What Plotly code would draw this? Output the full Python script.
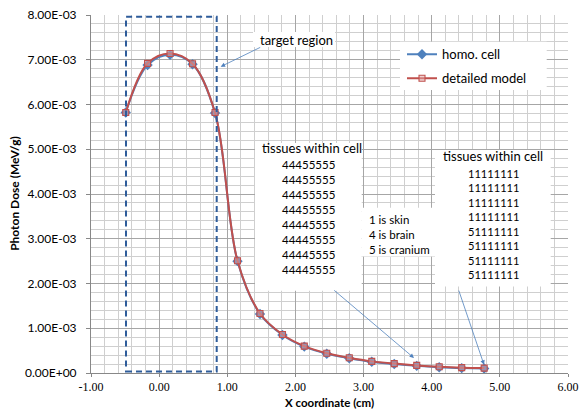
import plotly.graph_objects as go

# ---- data ----
x_cm = [-0.49, -0.17, 0.16, 0.49, 0.82, 1.15, 1.48, 1.81, 2.13, 2.46, 2.79, 3.12,
        3.45, 3.78, 4.11, 4.44, 4.77]
homo_cell = [5.82e-3, 6.88e-3, 7.11e-3, 6.90e-3, 5.81e-3, 2.50e-3, 1.32e-3, 0.85e-3,
             0.59e-3, 0.43e-3, 0.33e-3, 0.25e-3, 0.20e-3, 0.16e-3, 0.13e-3, 0.11e-3, 0.10e-3]
detailed_model = [5.82e-3, 6.92e-3, 7.14e-3, 6.91e-3, 5.82e-3, 2.51e-3, 1.33e-3, 0.86e-3,
                  0.60e-3, 0.44e-3, 0.34e-3, 0.26e-3, 0.21e-3, 0.17e-3, 0.14e-3, 0.12e-3, 0.11e-3]

x_tickvals = [-1, 0, 1, 2, 3, 4, 5, 6]
x_ticktext = ["-1.00", "0.00", "1.00", "2.00", "3.00", "4.00", "5.00", "6.00"]
y_tickvals = [0, 1e-3, 2e-3, 3e-3, 4e-3, 5e-3, 6e-3, 7e-3, 8e-3]
y_ticktext = ["0.00E+00", "1.00E-03", "2.00E-03", "3.00E-03", "4.00E-03",
              "5.00E-03", "6.00E-03", "7.00E-03", "8.00E-03"]

left_cells = ["44455555"] * 4 + ["44445555"] * 4
right_cells = ["11111111"] * 4 + ["51111111"] * 4
key_lines = ["1 is skin", "4 is brain", "5 is cranium"]

# ---- layout geometry (pixels of the 579x419 figure) ----
W, H = 579, 419
L, R, T, B = 91, 568, 15, 373.3
XMIN, XMAX, YMIN, YMAX = -1.0, 6.0, 0.0, 8e-3


def px2x(px):
    return XMIN + (px - L) / (R - L) * (XMAX - XMIN)


def py2y(py):
    return YMIN + (B - py) / (B - T) * (YMAX - YMIN)


def pfx(px):
    return (px - L) / (R - L)


def pfy(py):
    return (B - py) / (B - T)


SANS = "Lato"
SERIF = "Liberation Serif"
BLUE = "#4F81BD"
RED = "#C0504D"

fig = go.Figure()
fig.add_trace(go.Scatter(
    x=x_cm, y=homo_cell, name="homo. cell", mode="lines+markers",
    line=dict(color=BLUE, width=2, shape="spline", smoothing=1),
    marker=dict(symbol="diamond", size=8, color=BLUE),
    legend="legend"))
fig.add_trace(go.Scatter(
    x=x_cm, y=detailed_model, name="detailed model", mode="lines+markers",
    line=dict(color=RED, width=2, shape="spline", smoothing=1),
    marker=dict(symbol="square", size=6, color="rgba(225,165,165,0.5)",
                line=dict(color=RED, width=1.1)),
    legend="legend2"))

shapes = []
# white text boxes (drawn above the grid, below the data)
for (x0, x1, y0, y1) in [(253, 335, 32, 47), (255, 361.7, 143, 291),
                         (361.7, 438, 208, 256.7), (435, 550.7, 150, 286.7),
                         (400, 546.7, 41.7, 90)]:
    shapes.append(dict(type="rect", xref="x", yref="y", layer="between",
                       x0=px2x(x0), x1=px2x(x1), y0=py2y(y1), y1=py2y(y0),
                       fillcolor="white", line=dict(width=0)))
# dashed target region rectangle
shapes.append(dict(type="rect", xref="x", yref="y", layer="above",
                   x0=px2x(126), x1=px2x(216.7), y0=py2y(371.7), y1=py2y(16.7),
                   line=dict(color="#2E5C9A", width=2, dash="6px,4px")))

ann = []


def txt(s, px, py, size=13, xanchor="center", yanchor="middle"):
    ann.append(dict(text=s, x=px2x(px), y=py2y(py), xref="x", yref="y",
                    showarrow=False, xanchor=xanchor, yanchor=yanchor,
                    align=xanchor if xanchor != "center" else "center",
                    font=dict(family=SANS, size=size, color="#000")))


txt("target region", 296, 40)
txt("tissues within cell", 311.7, 148.3)
txt("<br>".join(left_cells), 308.3, 156, size=11.5, yanchor="top")
txt("tissues within cell", 493.3, 156)
txt("<br>".join(right_cells), 493.3, 165.5, size=11.1, yanchor="top")
txt("<br>".join(key_lines), 366.7, 211.5, size=11.5, xanchor="left", yanchor="top")

for (tx, ty, hx, hy) in [(261.7, 46.7, 220.7, 66.7), (332.7, 289.3, 414, 358.3),
                         (458.3, 289.3, 484, 365)]:
    ann.append(dict(text="", x=px2x(hx), y=py2y(hy), ax=px2x(tx), ay=py2y(ty),
                    xref="x", yref="y", axref="x", ayref="y", showarrow=True,
                    arrowhead=2, arrowsize=1.1, arrowwidth=0.8, arrowcolor=BLUE))

# axis titles
ann.append(dict(text="<b>X coordinate (cm)</b>", x=0.5, y=pfy(403), xref="paper", yref="paper",
                showarrow=False, xanchor="center", yanchor="middle",
                font=dict(family=SANS, size=11.5, color="#000")))
ann.append(dict(text="<b>Photon Dose (MeV/g)</b>", x=pfx(15), y=pfy(194), xref="paper", yref="paper",
                showarrow=False, xanchor="center", yanchor="middle", textangle=-90,
                font=dict(family=SANS, size=12, color="#000")))

leg_common = dict(xanchor="left", yanchor="middle", bgcolor="rgba(0,0,0,0)",
                  font=dict(family=SANS, size=13, color="#000"), itemwidth=30)

fig.update_layout(
    width=W, height=H,
    margin=dict(l=L, r=W - R, t=T, b=H - B, autoexpand=False),
    paper_bgcolor="white", plot_bgcolor="white",
    shapes=shapes, annotations=ann,
    showlegend=True,
    legend=dict(x=pfx(402), y=pfy(54.3), **leg_common),
    legend2=dict(x=pfx(402), y=pfy(78.3), **leg_common),
    font=dict(family=SANS, size=12, color="#000"),
)
fig.update_xaxes(
    range=[XMIN, XMAX], tickvals=x_tickvals, ticktext=x_ticktext,
    tickfont=dict(family=SERIF, size=12, color="#000"),
    showgrid=True, gridcolor="#A6A6A6", gridwidth=1.2,
    minor=dict(dtick=0.2, showgrid=True, gridcolor="#CFCFCF", gridwidth=1,
               ticks=""),
    ticks="outside", ticklen=3, tickcolor="#888", automargin=False,
    showline=True, linecolor="#888", linewidth=1, zeroline=False,
)
fig.update_yaxes(
    range=[YMIN, YMAX], tickvals=y_tickvals, ticktext=y_ticktext,
    tickfont=dict(family=SANS, size=12, color="#000"),
    showgrid=True, gridcolor="#A6A6A6", gridwidth=1.2,
    minor=dict(dtick=0.2e-3, showgrid=True, gridcolor="#CFCFCF", gridwidth=1,
               ticks=""),
    ticks="outside", ticklen=4, tickcolor="#888", automargin=False,
    ticklabelstandoff=7,
    showline=True, linecolor="#888", linewidth=1, zeroline=False,
)

fig.write_html("out.html", config={"displayModeBar": False},
               post_script="document.body.style.margin='0';document.body.style.padding='0';")
